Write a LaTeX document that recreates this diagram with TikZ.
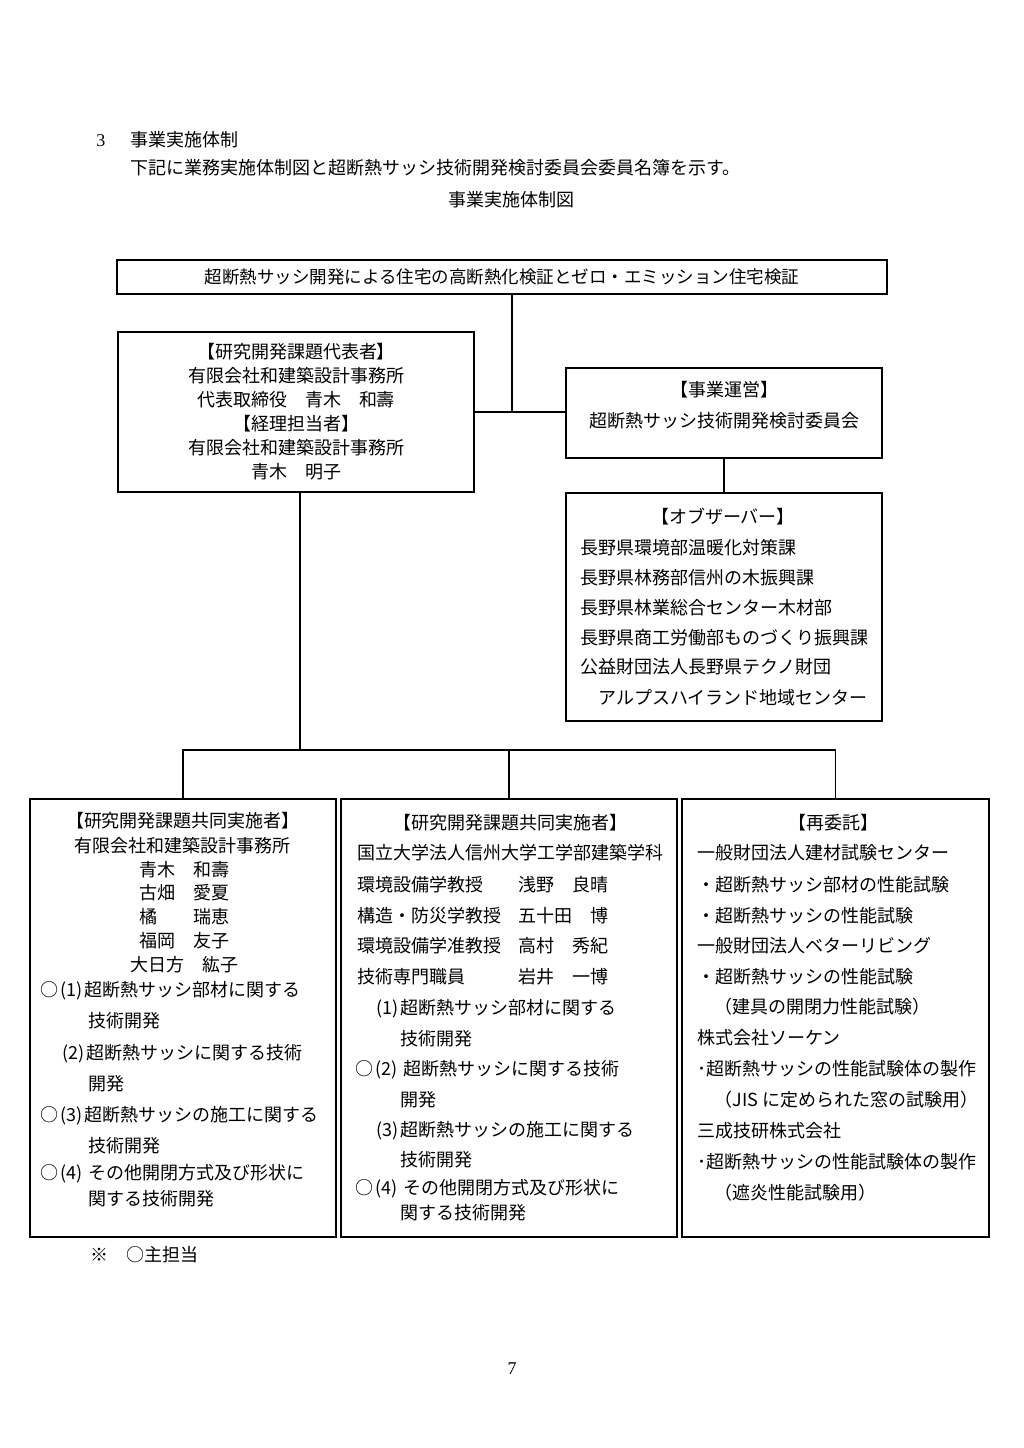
\documentclass[tikz,border=0pt]{standalone}
\usepackage{fontspec}
\setmainfont{Noto Sans CJK JP}
\newfontfamily\sernum{Liberation Serif}
\newcommand\pnum[1]{\makebox[13pt][c]{(#1)}}
\usetikzlibrary{fit}
\begin{document}
\begin{tikzpicture}[x=0.5pt,y=-0.5pt,
  box/.style={draw,line width=0.6pt,inner sep=0pt},
  conn/.style={line width=0.6pt},
  txt/.style={inner sep=0pt,font=\fontsize{9pt}{10pt}\selectfont,text height=7.9pt,text depth=1.1pt},
  lt/.style={txt,anchor=west},
  ct/.style={txt,anchor=center}]
\useasboundingbox (0,0) rectangle (1024,1448);

% heading
\node[lt] (h1) at (96,140) {\sernum 3};
\node[lt] (h2) at (130,140) {事業実施体制};
\node[lt] (h3) at (130,168) {下記に業務実施体制図と超断熱サッシ技術開発検討委員会委員名簿を示す。};
\node[ct] (h4) at (511,200) {事業実施体制図};

% boxes
\node[box,fit={(117,260) (887,294)}] (title) {};
\node[box,fit={(118,332) (474,492)}] (rep) {};
\node[box,fit={(566,368) (882,458)}] (ops) {};
\node[box,fit={(566,493) (882,721)}] (obs) {};
\node[box,fit={(30,799) (336,1237)}] (b1) {};
\node[box,fit={(341,799) (677,1237)}] (b2) {};
\node[box,fit={(682,799) (989,1237)}] (b3) {};

% connectors
\coordinate (j1) at (512,412);
\coordinate (j2) at (300,750);
\coordinate (bar) at (509,750);
\draw[conn] (title.south -| j1) -- (j1);
\draw[conn] (rep.east |- j1) -- (ops.west |- j1);
\draw[conn] (ops.south -| 724,0) -- (obs.north -| 724,0);
\draw[conn] (rep.south -| j2) -- (j2);
\draw[conn] (b1.north) |- (bar) -| (b3.north);
\draw[conn] (b2.north) -- (b2.north |- bar);

% title text
\node[ct,font=\fontsize{8.75pt}{10pt}\selectfont] (tt) at (title.center) {超断熱サッシ開発による住宅の高断熱化検証とゼロ・エミッション住宅検証};

% representative box
\node[ct] (r1) at (296,352) {【研究開発課題代表者】};
\node[ct] (r2) at (296,376) {有限会社和建築設計事務所};
\node[ct] (r3) at (296,400) {代表取締役　青木　和壽};
\node[ct] (r4) at (296,424) {【経理担当者】};
\node[ct] (r5) at (296,448) {有限会社和建築設計事務所};
\node[ct] (r6) at (296,472) {青木　明子};

% operations box
\node[ct] (o1) at (724,390) {【事業運営】};
\node[ct] (o2) at (724,421) {超断熱サッシ技術開発検討委員会};

% observer box
\node[ct] (v0) at (723,517) {【オブザーバー】};
\node[lt] (v1) at (580,548) {長野県環境部温暖化対策課};
\node[lt] (v2) at (580,578) {長野県林務部信州の木振興課};
\node[lt] (v3) at (580,608) {長野県林業総合センター木材部};
\node[lt] (v4) at (580,638) {長野県商工労働部ものづくり振興課};
\node[lt] (v5) at (580,667) {公益財団法人長野県テクノ財団};
\node[lt] (v6) at (598,698) {アルプスハイランド地域センター};

% bottom left box
\node[ct] (a0) at (183,821) {【研究開発課題共同実施者】};
\node[ct] (a1) at (183,846) {有限会社和建築設計事務所};
\node[ct] (a2) at (184,870) {青木　和壽};
\node[ct] (a3) at (184,893) {古畑　愛夏};
\node[ct] (a4) at (184,917) {橘　　瑞恵};
\node[ct] (a5) at (184,941) {福岡　友子};
\node[ct] (a6) at (184,965) {大日方　紘子};
\node[lt] (a7) at (40,990) {○\pnum{1}超断熱サッシ部材に関する};
\node[lt] (a8) at (88,1021) {技術開発};
\node[lt] (a9) at (60,1053) {\pnum{2}超断熱サッシに関する技術};
\node[lt] (a10) at (88,1084) {開発};
\node[lt] (a11) at (40,1115) {○\pnum{3}超断熱サッシの施工に関する};
\node[lt] (a12) at (88,1146) {技術開発};
\node[lt] (a13) at (40,1173) {○\pnum{4} その他開閉方式及び形状に};
\node[lt] (a14) at (88,1199) {関する技術開発};

% bottom middle box
\node[ct] (m0) at (510,823) {【研究開発課題共同実施者】};
\node[lt] (m1) at (357,853) {国立大学法人信州大学工学部建築学科};
\node[lt] (m2) at (357,885) {環境設備学教授};
\node[lt] (m2n) at (518,885) {浅野　良晴};
\node[lt] (m3) at (357,916) {構造・防災学教授};
\node[lt] (m3n) at (518,916) {五十田　博};
\node[lt] (m4) at (357,946) {環境設備学准教授};
\node[lt] (m4n) at (518,946) {高村　秀紀};
\node[lt] (m5) at (357,977) {技術専門職員};
\node[lt] (m5n) at (518,977) {岩井　一博};
\node[lt] (m6) at (374,1008) {\pnum{1}超断熱サッシ部材に関する};
\node[lt] (m7) at (400,1039) {技術開発};
\node[lt] (m8) at (355,1069) {○\pnum{2} 超断熱サッシに関する技術};
\node[lt] (m9) at (400,1100) {開発};
\node[lt] (m10) at (374,1130) {\pnum{3}超断熱サッシの施工に関する};
\node[lt] (m11) at (400,1160) {技術開発};
\node[lt] (m12) at (355,1188) {○\pnum{4} その他開閉方式及び形状に};
\node[lt] (m13) at (400,1213) {関する技術開発};

% bottom right box
\node[ct] (s0) at (833,823) {【再委託】};
\node[lt] (s1) at (697,853) {一般財団法人建材試験センター};
\node[lt] (s2) at (697,885) {・超断熱サッシ部材の性能試験};
\node[lt] (s3) at (697,916) {・超断熱サッシの性能試験};
\node[lt] (s4) at (697,946) {一般財団法人ベターリビング};
\node[lt] (s5) at (697,977) {・超断熱サッシの性能試験};
\node[lt] (s6) at (714,1007) {（建具の開閉力性能試験）};
\node[lt] (s7) at (697,1038) {株式会社ソーケン};
\node[lt] (s8) at (697,1069) {･超断熱サッシの性能試験体の製作};
\node[lt] (s9) at (714,1100) {（JIS に定められた窓の試験用）};
\node[lt] (s10) at (697,1131) {三成技研株式会社};
\node[lt] (s11) at (697,1162) {･超断熱サッシの性能試験体の製作};
\node[lt] (s12) at (714,1193) {（遮炎性能試験用）};

% note and page number
\node[lt] (n1) at (90,1255) {※　○主担当};
\node[ct] (pg) at (512,1368) {\sernum 7};
\end{tikzpicture}
\end{document}
